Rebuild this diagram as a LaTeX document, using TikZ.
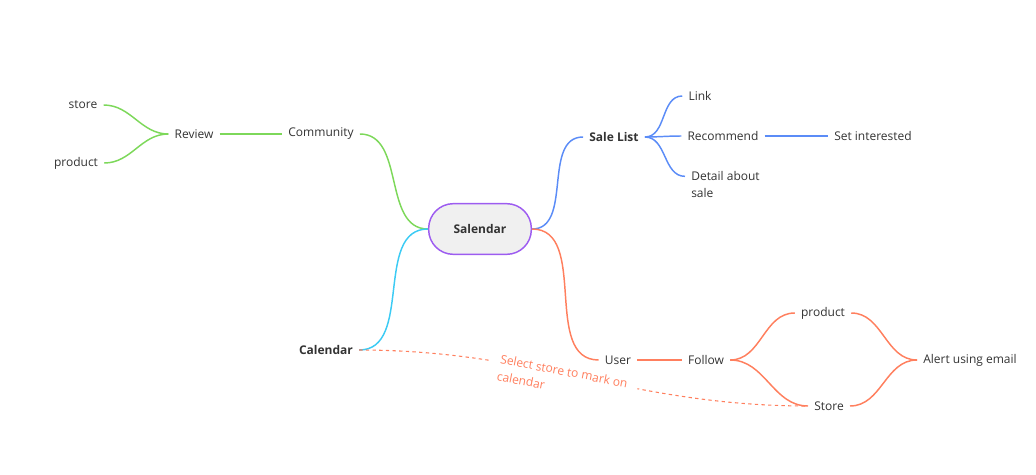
\documentclass[tikz,border=0pt]{standalone}
\usepackage{fontspec}
\setmainfont{Open Sans}
\usepackage{xcolor}
\usepackage{tikz}
\definecolor{mmgreen}{HTML}{7DD85A}
\definecolor{mmblue}{HTML}{5B8CF7}
\definecolor{mmcyan}{HTML}{3CCBF4}
\definecolor{mmorange}{HTML}{FF7F5E}
\definecolor{mmpurple}{HTML}{9D5CF0}
\definecolor{mmfill}{HTML}{F0F0F0}
\definecolor{mmtext}{HTML}{333333}

\begin{document}
\begin{tikzpicture}[x = 0.75pt, y = -0.75pt,
	topic/.style = {font=\fontsize{9}{13}\selectfont, text=mmtext, inner sep=4.5pt},
	main/.style = {topic, font=\fontsize{9}{13}\selectfont\bfseries},
	central/.style = {main, draw=mmpurple, fill=mmfill, line width=1.1pt,
		rounded corners=18.5pt, minimum width=77pt, minimum height=38pt},
	branch/.style = {line width=1.1pt}]
	\useasboundingbox (0,0) rectangle (1036,475);
	
	% central topic
	\node[central] (salendar) at (480,229) {Salendar};
	
	% community branch
	\node[topic] (community) at (321,134) {Community};
	\node[topic] (review) at (194,134) {Review};
	\node[topic] (storeA) at (83,105) {store};
	\node[topic] (productA) at (76,163) {product};
	
	\draw[branch, mmgreen] (community.east) to[out=0, in=180] (salendar.west);
	\draw[branch, mmgreen] (review.east) -- (community.west);
	\draw[branch, mmgreen] (storeA.east) to[out=0, in=180] (review.west);
	\draw[branch, mmgreen] (productA.east) to[out=0, in=180] (review.west);
	
	% calendar branch
	\node[main] (calendar) at (326,350) {Calendar};
	\draw[branch, mmcyan] (calendar.east) to[out=0, in=180] (salendar.west);
	
	% sale list branch
	\node[main] (salelist) at (614,137) {Sale List};
	\node[topic] (link) at (700,96) {Link};
	\node[topic] (recommend) at (723,136) {Recommend};
	\node[topic] (interested) at (873,136) {Set interested};
	\node[topic, anchor=north west, align=left] (detail) at (685,165) {Detail about\\sale};
	
	\draw[branch, mmblue] (salendar.east) to[out=0, in=180] (salelist.west);
	\draw[branch, mmblue] (salelist.east) to[out=0, in=180] (link.west);
	\draw[branch, mmblue] (salelist.east) to[out=0, in=180] (recommend.west);
	\draw[branch, mmblue] (salelist.east) to[out=0, in=180] ([yshift=-8.5pt]detail.north west);
	\draw[branch, mmblue] (recommend.east) -- (interested.west);
	
	% user branch
	\node[topic] (user) at (618,360) {User};
	\node[topic] (follow) at (706,360) {Follow};
	\node[topic] (productB) at (823,313) {product};
	\node[topic] (storeB) at (829,406) {Store};
	\node[topic] (alert) at (970,360) {Alert using email};
	
	% relation with its note
	\draw[mmorange, line width=0.8pt, dashed, dash pattern=on 2.5pt off 2.5pt]
		(calendar.east) to[out=0, in=180] (storeB.west);
	\node[topic, text=mmorange, fill=white, anchor=north west, align=left, rotate=-11,
		inner xsep=8pt] (note) at (492,346) {Select store to mark on\\calendar};
	
	\draw[branch, mmorange] (salendar.east) to[out=0, in=180] (user.west);
	\draw[branch, mmorange] (user.east) -- (follow.west);
	\draw[branch, mmorange] (follow.east) to[out=0, in=180] (productB.west);
	\draw[branch, mmorange] (follow.east) to[out=0, in=180] (storeB.west);
	\draw[branch, mmorange] (productB.east) to[out=0, in=180] (alert.west);
	\draw[branch, mmorange] (storeB.east) to[out=0, in=180] (alert.west);
	
\end{tikzpicture}
\end{document}
